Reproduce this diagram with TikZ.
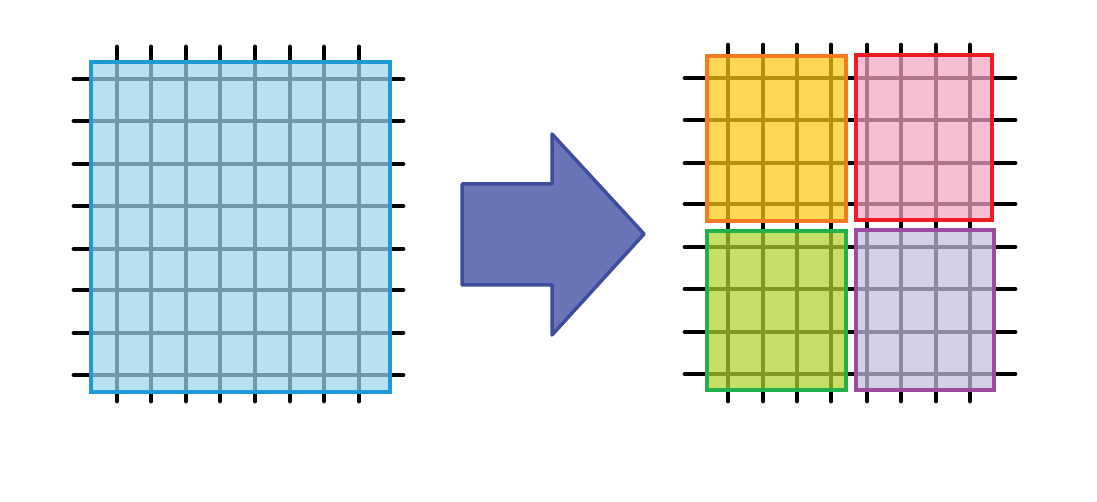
\documentclass[tikz,border=0pt]{standalone}
\usetikzlibrary{positioning}

\definecolor{bluefill}{RGB}{155,213,233}
\definecolor{blueedge}{RGB}{30,155,215}
\definecolor{yellowfill}{RGB}{254,200,20}
\definecolor{orangeedge}{RGB}{244,123,32}
\definecolor{pinkfill}{RGB}{244,166,195}
\definecolor{rededge}{RGB}{237,28,36}
\definecolor{greenfill}{RGB}{176,212,45}
\definecolor{greenedge}{RGB}{34,176,75}
\definecolor{lilacfill}{RGB}{198,190,220}
\definecolor{purpleedge}{RGB}{158,74,158}
\definecolor{arrowfill}{RGB}{108,116,184}
\definecolor{arrowedge}{RGB}{63,77,160}

\begin{document}
\begin{tikzpicture}[x=1pt, y=-1pt,
    gridline/.style={line width=4.8pt, line cap=round},
    block/.style={line width=4.5pt, fill opacity=0.72},
    bigarrow/.style={draw=arrowedge, fill=arrowfill, line width=3.5pt, line join=round}]
    \useasboundingbox (0,0) rectangle (1097,502);

    % left mesh
    \foreach \x in {117,151,186,220,255,290,324,359}
        \draw[gridline] (\x,47) -- (\x,401);
    \foreach \y in {79,121,164,206,249,290,333,375}
        \draw[gridline] (74,\y) -- (403,\y);
    \draw[block, draw=blueedge, fill=bluefill] (91,62) rectangle (390,392);

    % arrow
    \draw[bigarrow] (462,184) -- (552,184) -- (552,134) -- (644,234)
        -- (552,335) -- (552,285) -- (462,285) -- cycle;

    % right mesh, split in four
    \foreach \x in {728,763,797,831,867,901,936,970}
        \draw[gridline] (\x,45) -- (\x,401);
    \foreach \y in {78,120,163,204,247,289,332,374}
        \draw[gridline] (685,\y) -- (1015,\y);
    \draw[block, draw=orangeedge, fill=yellowfill] (707,56) rectangle (846,221);
    \draw[block, draw=rededge, fill=pinkfill] (856,55) rectangle (992,220);
    \draw[block, draw=greenedge, fill=greenfill] (707,231) rectangle (846,390);
    \draw[block, draw=purpleedge, fill=lilacfill] (856,230) rectangle (994,390);
\end{tikzpicture}
\end{document}
